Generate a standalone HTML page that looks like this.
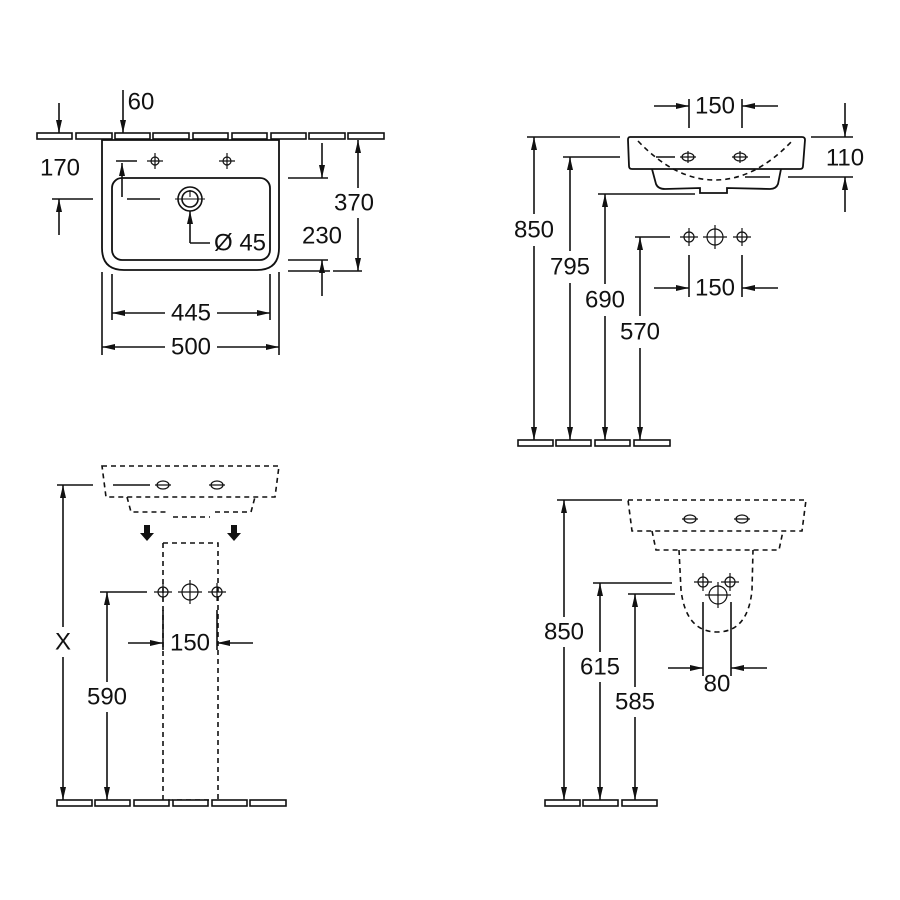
<!DOCTYPE html>
<html><head><meta charset="utf-8"><style>
html,body{margin:0;padding:0;background:#fff;}
svg{display:block;}
text{font-family:"Liberation Sans",sans-serif;font-size:24px;fill:#111;text-anchor:middle;dominant-baseline:central;}
</style></head><body>
<svg width="900" height="900" viewBox="0 0 900 900" xmlns="http://www.w3.org/2000/svg">
<defs>
<marker id="a" viewBox="0 0 13 7" refX="13" refY="3.5" markerWidth="13" markerHeight="7" markerUnits="userSpaceOnUse" orient="auto-start-reverse">
<path d="M0,0.5 L13,3.5 L0,6.5 Z" fill="#111"/></marker>
</defs>
<g stroke="#111" stroke-width="1.6" fill="none">
<!-- ===== Q1 ===== -->
<g fill="#fff">
<rect x="37" y="133" width="35" height="6"/><rect x="76" y="133" width="36" height="6"/><rect x="115" y="133" width="35" height="6"/><rect x="153" y="133" width="36" height="6"/><rect x="193" y="133" width="35" height="6"/><rect x="232" y="133" width="35" height="6"/><rect x="271" y="133" width="35" height="6"/><rect x="309" y="133" width="36" height="6"/><rect x="348" y="133" width="36" height="6"/>
</g>
<path d="M102,140 H279 V248 Q279,270 257,270 H124 Q102,270 102,248 Z" fill="#fff" stroke-width="1.8"/>
<rect x="112" y="178" width="158" height="82" rx="10" stroke-width="1.8"/>
<circle cx="190" cy="199" r="12"/><circle cx="190" cy="199" r="8"/>
<path d="M175,199 H205 M190,190 V197" stroke-width="1.1"/>
<g stroke-width="1.2"><circle cx="155" cy="161" r="4"/><path d="M147,161 H163 M155,153 V169"/><circle cx="227" cy="161" r="4"/><path d="M219,161 H235 M227,153 V169"/></g>
<path d="M123,90 V133" marker-end="url(#a)"/>
<path d="M59,103 V133" marker-end="url(#a)"/>
<path d="M59,235 V199" marker-end="url(#a)"/>
<path d="M52,199 H93"/>
<path d="M116,161 H137"/>
<path d="M122,197 V163" marker-end="url(#a)"/>
<path d="M127,199 H160"/>
<path d="M190,243 V211" marker-end="url(#a)"/>
<path d="M190,243 H210"/>
<path d="M288,178 H328"/>
<path d="M322,143 V178" marker-end="url(#a)"/>
<path d="M288,260 H328"/>
<path d="M322,296 V260" marker-end="url(#a)"/>
<path d="M288,271 H330 M333,271 H362"/>
<path d="M358,188 V140" marker-end="url(#a)"/>
<path d="M358,218 V271" marker-end="url(#a)"/>
<path d="M112,274 V320 M270,274 V320 M102,272 V355 M279,272 V355"/>
<path d="M165,313 H112" marker-end="url(#a)"/><path d="M217,313 H270" marker-end="url(#a)"/>
<path d="M165,347 H102" marker-end="url(#a)"/><path d="M217,347 H279" marker-end="url(#a)"/>

<!-- ===== Q2 ===== -->
<path d="M689,99 V128 M742,99 V128"/>
<path d="M654,106 H689" marker-end="url(#a)"/><path d="M778,106 H742" marker-end="url(#a)"/>
<path d="M630,137 H802 Q805,137 805,140 L803,166 Q803,169 800,169 H632 Q629,169 629,166 L628,140 Q628,137 630,137 Z" stroke-width="1.8"/>
<path d="M652,169 L656,184 Q658,189 665,189 L700,188 V193 H727 V188 L770,189 Q776,189 778,184 L781,169" stroke-width="1.8"/>
<path d="M638,141 Q675,180 715,180 Q755,180 792,141" stroke-dasharray="5,4"/>
<path d="M656,157 H675 M745,177 H770"/>
<g stroke-width="1.2"><ellipse cx="688" cy="157" rx="6" ry="4"/><path d="M680,157 H696 M688,151 V163"/><ellipse cx="740" cy="157" rx="6" ry="4"/><path d="M732,157 H748 M740,151 V163"/></g>
<path d="M845,103 V137" marker-end="url(#a)"/>
<path d="M811,137 H853 M788,177 H853"/>
<path d="M845,212 V177" marker-end="url(#a)"/>
<path d="M527,137 H620 M563,157 H620 M598,194 H695 M635,237 H670"/>
<path d="M534,214 V137" marker-end="url(#a)"/><path d="M534,246 V440" marker-end="url(#a)"/>
<path d="M570,251 V157" marker-end="url(#a)"/><path d="M570,283 V440" marker-end="url(#a)"/>
<path d="M605,284 V194" marker-end="url(#a)"/><path d="M605,316 V440" marker-end="url(#a)"/>
<path d="M640,316 V237" marker-end="url(#a)"/><path d="M640,348 V440" marker-end="url(#a)"/>
<g fill="#fff"><rect x="518" y="440" width="35" height="6"/><rect x="556" y="440" width="35" height="6"/><rect x="595" y="440" width="35" height="6"/><rect x="634" y="440" width="36" height="6"/></g>
<g stroke-width="1.2"><circle cx="689" cy="237" r="5"/><path d="M680,237 H698 M689,228 V246"/><circle cx="715" cy="237" r="8"/><path d="M703,237 H727 M715,225 V249"/><circle cx="742" cy="237" r="5"/><path d="M733,237 H751 M742,228 V246"/></g>
<path d="M689,255 V297 M742,255 V297"/>
<path d="M654,288 H689" marker-end="url(#a)"/><path d="M778,288 H742" marker-end="url(#a)"/>

<!-- ===== Q3 ===== -->
<g stroke-dasharray="5,4">
<path d="M102,466 H279 L275,497 H106 Z"/>
<path d="M127,497 L131,512 H168 M173,517 H210 M215,512 H251 L255,497"/>
<path d="M163,543 H218 V800 M163,543 V800"/>
<path d="M168,800 H213"/>
</g>
<path d="M113,485 H150"/>
<g stroke-width="1.2"><ellipse cx="163" cy="485" rx="6" ry="4"/><ellipse cx="217" cy="485" rx="6" ry="4"/><path d="M155,485 H171 M209,485 H225"/></g>
<path d="M57,485 H93"/>
<path d="M144,525 H150 V533 H154 L147,541 L140,533 H144 Z M231,525 H237 V533 H241 L234,541 L227,533 H231 Z" fill="#111" stroke="none"/>
<g stroke-width="1.2"><circle cx="163" cy="592" r="5"/><path d="M154,592 H172 M163,583 V601"/><circle cx="190" cy="592" r="8"/><path d="M178,592 H202 M190,580 V604"/><circle cx="217" cy="592" r="5"/><path d="M208,592 H226 M217,583 V601"/></g>
<path d="M100,592 H147"/>
<path d="M63,627 V485" marker-end="url(#a)"/><path d="M63,657 V800" marker-end="url(#a)"/>
<path d="M107,682 V592" marker-end="url(#a)"/><path d="M107,712 V800" marker-end="url(#a)"/>
<path d="M163,610 V650 M217,610 V650"/>
<path d="M128,643 H163" marker-end="url(#a)"/><path d="M253,643 H217" marker-end="url(#a)"/>
<g fill="#fff"><rect x="57" y="800" width="35" height="6"/><rect x="95" y="800" width="35" height="6"/><rect x="134" y="800" width="35" height="6"/><rect x="173" y="800" width="35" height="6"/><rect x="212" y="800" width="35" height="6"/><rect x="250" y="800" width="36" height="6"/></g>

<!-- ===== Q4 ===== -->
<g stroke-dasharray="5,4">
<path d="M628,500 H806 L802,531 H632 Z"/>
<path d="M652,531 L656,550 H779 L783,531"/>
<path d="M679,550 L681,590 Q686,632 717,632 Q748,632 752,590 L753,550"/>
</g>
<g stroke-width="1.2"><ellipse cx="690" cy="519" rx="6" ry="4"/><ellipse cx="742" cy="519" rx="6" ry="4"/><path d="M682,519 H698 M734,519 H750"/>
<circle cx="703" cy="582" r="5"/><path d="M694,582 H712 M703,573 V591"/><circle cx="730" cy="582" r="5"/><path d="M721,582 H739 M730,573 V591"/><circle cx="718" cy="595" r="9"/><path d="M705,595 H731 M718,582 V608"/></g>
<path d="M557,500 H622 M593,583 H672 M628,594 H675"/>
<path d="M564,617 V500" marker-end="url(#a)"/><path d="M564,647 V800" marker-end="url(#a)"/>
<path d="M600,652 V583" marker-end="url(#a)"/><path d="M600,682 V800" marker-end="url(#a)"/>
<path d="M635,687 V594" marker-end="url(#a)"/><path d="M635,717 V800" marker-end="url(#a)"/>
<path d="M703,602 V676 M731,602 V676"/>
<path d="M668,668 H703" marker-end="url(#a)"/><path d="M767,668 H731" marker-end="url(#a)"/>
<g fill="#fff"><rect x="545" y="800" width="35" height="6"/><rect x="583" y="800" width="35" height="6"/><rect x="622" y="800" width="35" height="6"/></g>
</g>
<text x="141" y="102">60</text>
<text x="60" y="168">170</text>
<text x="240" y="243">Ø 45</text>
<text x="322" y="236">230</text>
<text x="354" y="203">370</text>
<text x="191" y="313">445</text>
<text x="191" y="347">500</text>
<text x="715" y="106">150</text>
<text x="845" y="158">110</text>
<text x="534" y="230">850</text>
<text x="570" y="267">795</text>
<text x="605" y="300">690</text>
<text x="640" y="332">570</text>
<text x="715" y="288">150</text>
<text x="63" y="642">X</text>
<text x="107" y="697">590</text>
<text x="190" y="643">150</text>
<text x="564" y="632">850</text>
<text x="600" y="667">615</text>
<text x="635" y="702">585</text>
<text x="717" y="684">80</text>
</svg>
</body></html>
